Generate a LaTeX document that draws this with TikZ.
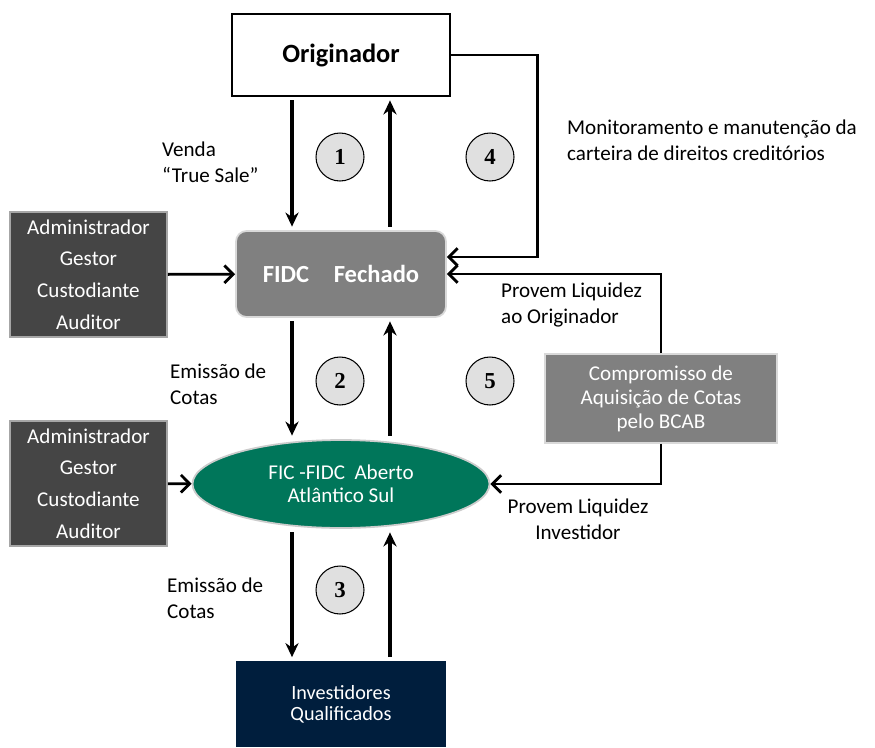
\documentclass[tikz,border=0pt]{standalone}
\usepackage{fontspec}
\setmainfont{Carlito}
\newfontfamily\numfont{Liberation Serif}
\usepackage{xcolor}
\usetikzlibrary{shapes.geometric,positioning}
\usetikzlibrary{arrows.meta}
\definecolor{fidcgray}{HTML}{808080}
\definecolor{admgray}{HTML}{454545}
\definecolor{ficgreen}{HTML}{00765A}
\definecolor{invnavy}{HTML}{001E3D}
\definecolor{numfill}{HTML}{E0E0E0}
\tikzset{>=Stealth}
\tikzset{%
    flow/.style={line width=2.2pt,-{Stealth[length=8pt,width=7.5pt]},shorten <=2pt,shorten >=2pt},
    link/.style={line width=1.6pt,-{Straight Barb[length=5pt,width=10pt]}},
    admbox/.style={fill=admgray,draw=gray!70,line width=1pt,text=white,
        minimum width=3.14cm,minimum height=2.5cm,align=center,
        font=\fontsize{12}{18}\selectfont},
    numc/.style={circle,draw,line width=0.6pt,fill=numfill,minimum size=0.96cm,
        inner sep=0pt,font=\numfont\bfseries\fontsize{13}{13}\selectfont},
    lbl/.style={align=left,font=\fontsize{12}{15}\selectfont}
}

\begin{document}
\begin{tikzpicture}[x=0.02cm,y=-0.02cm]
    \useasboundingbox (0,0) rectangle (875,747);

    % main chain
    \node[draw,line width=1pt,minimum width=4.36cm,minimum height=1.64cm,
        font=\bfseries\fontsize{15}{15}\selectfont] (orig) at (341,55) {Originador};
    \node[fill=fidcgray,draw=gray!30,line width=1pt,rounded corners=6pt,
        minimum width=4.2cm,minimum height=1.72cm,text=white,
        font=\bfseries\fontsize{14}{14}\selectfont] (fidc) at (341,274) {FIDC\quad Fechado};
    \node[ellipse,fill=ficgreen,draw=gray!40,line width=1pt,minimum width=5.94cm,
        minimum height=1.76cm,inner sep=0pt,text=white,align=center,
        font=\fontsize{12}{13}\selectfont] (fic) at (341,484) {FIC -FIDC\ \ Aberto\\Atlântico Sul};
    \node[fill=invnavy,minimum width=4.2cm,minimum height=1.72cm,text=white,
        align=center,font=\fontsize{11.5}{12}\selectfont] (inv) at (341,704) {Investidores\\Qualificados};

    \node[admbox] (adm1) at (88.5,274.5) {Administrador\\Gestor\\Custodiante\\Auditor};
    \node[admbox] (adm2) at (88.5,483.5) {Administrador\\Gestor\\Custodiante\\Auditor};
    \node[fill=fidcgray,draw=gray!30,line width=1pt,minimum width=4.64cm,
        minimum height=1.78cm,text=white,align=center,
        font=\fontsize{12}{13.6}\selectfont] (comp) at (661,398.5) {Compromisso de\\Aquisição de Cotas\\pelo BCAB};

    % vertical flows
    \draw[flow] ([xshift=-0.98cm]orig.south) -- ([xshift=-0.98cm]fidc.north);
    \draw[flow] ([xshift=0.98cm]fidc.north) -- ([xshift=0.98cm]orig.south);
    \draw[flow] ([xshift=-0.98cm]fidc.south) -- ([xshift=-0.98cm]fic.north);
    \draw[flow] ([xshift=0.98cm]fic.north) -- ([xshift=0.98cm]fidc.south);
    \draw[flow] ([xshift=-0.98cm]fic.south) -- ([xshift=-0.98cm]inv.north);
    \draw[flow] ([xshift=0.98cm]inv.north) -- ([xshift=0.98cm]fic.south);

    % side links
    \draw[link] (adm1) -- (fidc);
    \draw[link] (adm2) -- (fic);
    \draw[link] (orig.east) -- ++(87,0) |- ([yshift=0.34cm]fidc.east);
    \draw[link] (comp.north) |- (fidc.east);
    \draw[link] (comp.south) |- (fic.east);

    \node[numc] (n1) at (340,157) {1};
    \node[numc] (n4) at (490,157) {4};
    \node[numc] (n2) at (340,381) {2};
    \node[numc] (n5) at (490,381) {5};
    \node[numc] (n3) at (340,590) {3};

    \node[lbl,anchor=west] (venda) at (156,162) {Venda\\ “True Sale”};
    \node[lbl,anchor=west] (monit) at (561,140) {Monitoramento e manutenção da\\carteira de direitos creditórios};
    \node[lbl,anchor=west] (emis1) at (164,384) {Emissão de\\Cotas};
    \node[lbl,anchor=west] (emis2) at (161,598) {Emissão de\\Cotas};
    \node[lbl,anchor=west] (provo) at (495,305) {Provem Liquidez\\ao Originador};
    \node[lbl,align=center] (provi) at (578,519) {Provem Liquidez\\Investidor};
\end{tikzpicture}
\end{document}
